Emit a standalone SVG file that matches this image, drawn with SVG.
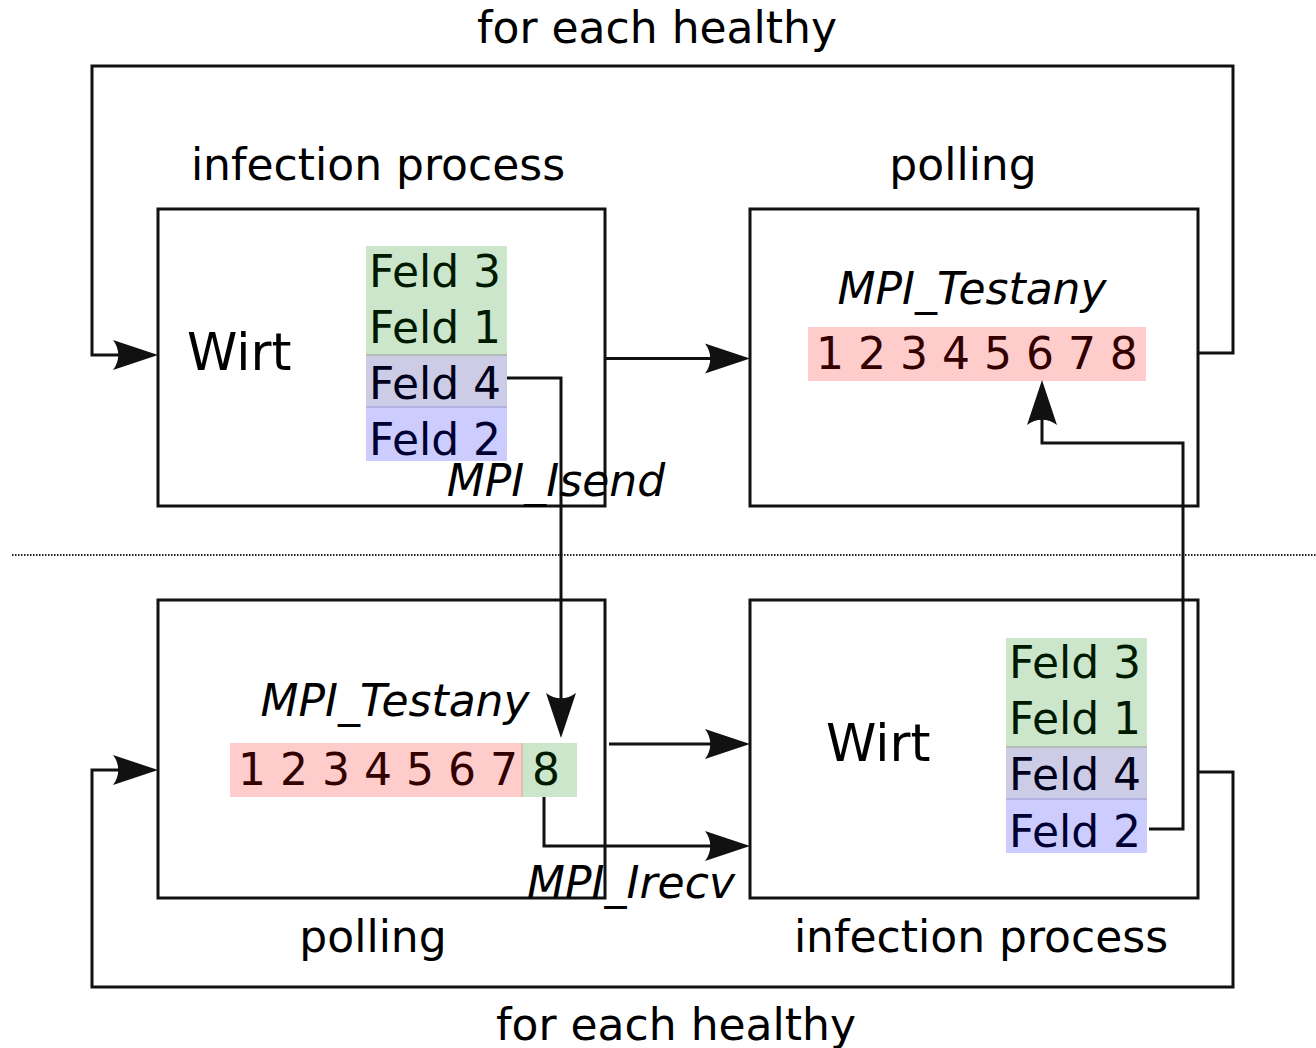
<svg xmlns="http://www.w3.org/2000/svg" width="1316" height="1048" viewBox="0 0 1316 1048">
  <defs>
    <style>
      text { font-family: "DejaVu Sans", "Liberation Sans", sans-serif; font-size: 44px; fill: #000; }
      .it { font-style: italic; }
      .mid { text-anchor: middle; }
      .wirt { font-size: 51px; }
      .box { fill: #fff; stroke: #111; stroke-width: 3; }
      .wire { fill: none; stroke: #111; stroke-width: 3; }
      .sep { fill: none; stroke: #222; stroke-width: 2; stroke-dasharray: 1.5 1.5; }
      .cg { fill: #cce6cc; } .tg { fill: #001a00; }
      .cs { fill: #ccccE6; } .ts { fill: #00001a; }
      .cb { fill: #ccccff; } .tb { fill: #000033; }
      .cr { fill: #ffcccc; } .tr { fill: #330000; }
    </style>
    <marker id="dart" markerUnits="userSpaceOnUse" viewBox="-40 -18 50 36" refX="0" refY="0" markerWidth="50" markerHeight="36" orient="auto">
      <path d="M8,0 L-37,-15 C-30,-6 -30,6 -37,15 Z" fill="#111"/>
    </marker>
  </defs>

  <!-- separator between the two processes -->
  <line class="sep" x1="12" y1="555" x2="1316" y2="555"/>

  <!-- loop captions -->
  <text class="mid" x="657" y="43">for each healthy</text>
  <text class="mid" x="676" y="1040">for each healthy</text>

  <!-- upper process: infection -->
  <g id="top-infection">
    <text class="mid" x="378" y="180">infection process</text>
    <rect class="box" x="158" y="209" width="447" height="297"/>
    <text class="wirt" x="187" y="370">Wirt</text>
    <rect class="cg" x="366" y="246" width="141" height="109"/>
    <rect class="cs" x="366" y="355" width="141" height="52"/>
    <rect class="cb" x="366" y="407" width="141" height="54"/>
    <line x1="366" y1="355" x2="507" y2="355" stroke="#aab5aa" stroke-width="1.5"/>
    <line x1="366" y1="407" x2="507" y2="407" stroke="#aaaadd" stroke-width="1.5"/>
    <text class="tg" x="369" y="287">Feld 3</text>
    <text class="tg" x="369" y="343">Feld 1</text>
    <text class="ts" x="369" y="399">Feld 4</text>
    <text class="tb" x="369" y="455">Feld 2</text>
  </g>

  <!-- upper process: polling -->
  <g id="top-polling">
    <text class="mid" x="963" y="180">polling</text>
    <rect class="box" x="750" y="209" width="448" height="297"/>
    <text class="it mid" x="972" y="304">MPI_Testany</text>
    <rect class="cr" x="808" y="327" width="338" height="54"/>
    <text class="tr" x="816" y="369">1 2 3 4 5 6 7 8</text>
  </g>

  <!-- lower process: polling -->
  <g id="bottom-polling">
    <rect class="box" x="158" y="600" width="447" height="298"/>
    <text class="mid" x="373" y="952">polling</text>
    <text class="it mid" x="395" y="716">MPI_Testany</text>
    <rect class="cr" x="230" y="743" width="292" height="54"/>
    <rect class="cg" x="522" y="743" width="55" height="54"/>
    <line x1="522" y1="743" x2="522" y2="797" stroke="#d8b8a8" stroke-width="1.5"/>
    <text x="238" y="785"><tspan class="tr">1 2 3 4 5 6 7 </tspan><tspan class="tg">8</tspan></text>
  </g>

  <!-- lower process: infection -->
  <g id="bottom-infection">
    <rect class="box" x="750" y="600" width="448" height="298"/>
    <text class="mid" x="981" y="952">infection process</text>
    <text class="wirt" x="826" y="761">Wirt</text>
    <rect class="cg" x="1006" y="638" width="141" height="109"/>
    <rect class="cs" x="1006" y="747" width="141" height="52"/>
    <rect class="cb" x="1006" y="799" width="141" height="54"/>
    <line x1="1006" y1="747" x2="1147" y2="747" stroke="#aab5aa" stroke-width="1.5"/>
    <line x1="1006" y1="799" x2="1147" y2="799" stroke="#aaaadd" stroke-width="1.5"/>
    <text class="tg" x="1009" y="678">Feld 3</text>
    <text class="tg" x="1009" y="734">Feld 1</text>
    <text class="ts" x="1009" y="790">Feld 4</text>
    <text class="tb" x="1009" y="847">Feld 2</text>
  </g>

  <!-- connectors -->
  <g id="connectors">
    <path class="wire" d="M1198,353 H1233 V66 H92 V355 H150" marker-end="url(#dart)"/>
    <path class="wire" d="M605,358.5 H742" marker-end="url(#dart)"/>
    <path class="wire" d="M507,378 H561 V730" marker-end="url(#dart)"/>
    <path class="wire" d="M1149,829 H1183 V443 H1042 V388" marker-end="url(#dart)"/>
    <path class="wire" d="M1198,772 H1233 V987 H92 V770 H150" marker-end="url(#dart)"/>
    <path class="wire" d="M609,744 H742" marker-end="url(#dart)"/>
    <path class="wire" d="M544,797 V846 H742" marker-end="url(#dart)"/>
  </g>

  <!-- call labels -->
  <text class="it mid" x="556" y="496">MPI_Isend</text>
  <text class="it mid" x="631" y="898">MPI_Irecv</text>
</svg>
